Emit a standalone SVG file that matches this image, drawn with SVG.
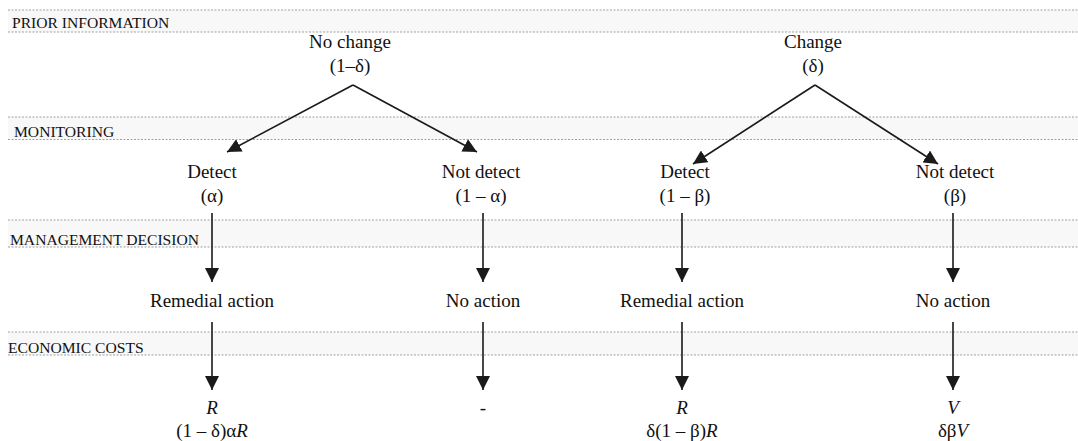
<svg xmlns="http://www.w3.org/2000/svg" width="1078" height="441" viewBox="0 0 1078 441">
<style>
.band{fill:#f8f8f8;stroke:none}
.rule{stroke:#a0a0a0;stroke-width:1;stroke-dasharray:2 1.5;fill:none}
.lab{font-family:"Liberation Serif","Times New Roman",serif;font-size:15.6px;fill:#111}
.node{font-family:"Liberation Serif","Times New Roman",serif;font-size:19px;fill:#111;text-anchor:middle}
.edge{stroke:#1a1a1a;stroke-width:1.6;fill:none;marker-end:url(#ah)}
</style>
<defs>
<marker id="ah" markerUnits="userSpaceOnUse" markerWidth="14" markerHeight="14" viewBox="0 0 12 12" refX="12" refY="6" orient="auto">
<path d="M0,0 L12,6 L0,12 Z" fill="#1a1a1a"/>
</marker>
</defs>
<rect width="1078" height="441" fill="#ffffff"/>
<g id="bands">
<rect class="band" x="8" y="10" width="1070" height="22"/>
<rect class="band" x="8" y="117" width="1070" height="22"/>
<rect class="band" x="8" y="220" width="1070" height="27"/>
<rect class="band" x="8" y="332" width="1070" height="23"/>
<line class="rule" x1="8" y1="10" x2="1078" y2="10"/>
<line class="rule" x1="8" y1="32" x2="1078" y2="32"/>
<line class="rule" x1="8" y1="117" x2="1078" y2="117"/>
<line class="rule" x1="8" y1="139.5" x2="1078" y2="139.5"/>
<line class="rule" x1="8" y1="220" x2="1078" y2="220"/>
<line class="rule" x1="8" y1="247" x2="1078" y2="247"/>
<line class="rule" x1="8" y1="332" x2="1078" y2="332"/>
<line class="rule" x1="8" y1="355" x2="1078" y2="355"/>
<text class="lab" x="12" y="28">PRIOR INFORMATION</text>
<text class="lab" x="14" y="137">MONITORING</text>
<text class="lab" x="10" y="245">MANAGEMENT DECISION</text>
<text class="lab" x="8" y="353">ECONOMIC COSTS</text>
</g>
<g id="connectors">
<line class="edge" x1="353" y1="85" x2="227" y2="152"/>
<line class="edge" x1="353" y1="85" x2="477" y2="152"/>
<line class="edge" x1="815" y1="85" x2="693" y2="164"/>
<line class="edge" x1="815" y1="85" x2="938" y2="164"/>
<line class="edge" x1="212" y1="213" x2="212" y2="282"/>
<line class="edge" x1="483" y1="213" x2="483" y2="282"/>
<line class="edge" x1="682" y1="213" x2="682" y2="282"/>
<line class="edge" x1="953" y1="213" x2="953" y2="282"/>
<line class="edge" x1="212" y1="322" x2="212" y2="390"/>
<line class="edge" x1="483" y1="322" x2="483" y2="390"/>
<line class="edge" x1="682" y1="322" x2="682" y2="390"/>
<line class="edge" x1="953" y1="322" x2="953" y2="390"/>
</g>
<g id="no-change"><text class="node" x="350" y="48">No change</text><text class="node" x="350" y="72">(1–δ)</text></g>
<g id="change"><text class="node" x="813" y="48">Change</text><text class="node" x="813" y="72">(δ)</text></g>
<g id="detect-a"><text class="node" x="212" y="178">Detect</text><text class="node" x="212" y="202">(α)</text></g>
<g id="notdetect-a"><text class="node" x="481" y="178">Not detect</text><text class="node" x="481" y="202">(1 – α)</text></g>
<g id="detect-b"><text class="node" x="685" y="178">Detect</text><text class="node" x="685" y="202">(1 – β)</text></g>
<g id="notdetect-b"><text class="node" x="955" y="178">Not detect</text><text class="node" x="955" y="202">(β)</text></g>
<g id="remedial-1"><text class="node" x="212" y="307">Remedial action</text></g>
<g id="noaction-1"><text class="node" x="483" y="307">No action</text></g>
<g id="remedial-2"><text class="node" x="682" y="307">Remedial action</text></g>
<g id="noaction-2"><text class="node" x="953" y="307">No action</text></g>
<g id="cost-1"><text class="node" x="212" y="414" font-style="italic">R</text><text class="node" x="212" y="437">(1 – δ)α<tspan font-style="italic">R</tspan></text></g>
<g id="cost-2"><text class="node" x="483" y="414">-</text></g>
<g id="cost-3"><text class="node" x="682" y="414" font-style="italic">R</text><text class="node" x="682" y="437">δ(1 – β)<tspan font-style="italic">R</tspan></text></g>
<g id="cost-4"><text class="node" x="953" y="414" font-style="italic">V</text><text class="node" x="953" y="437">δβ<tspan font-style="italic">V</tspan></text></g>
</svg>
